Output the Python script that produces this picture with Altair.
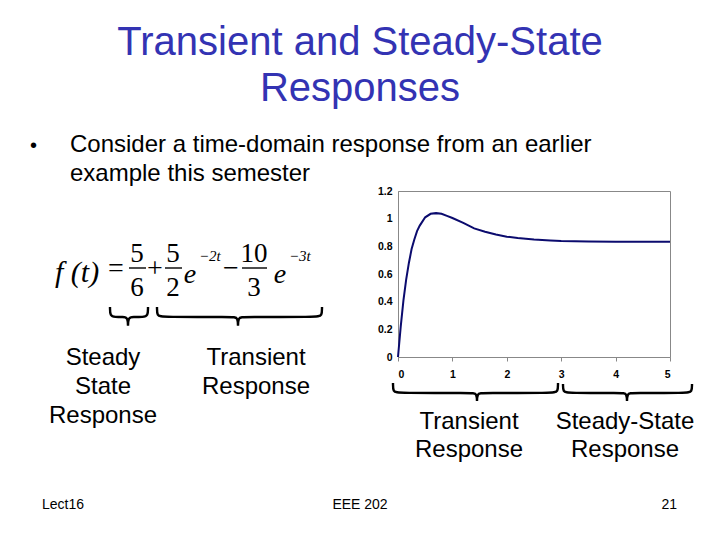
import altair as alt
import pandas as pd

# ---------------- data ----------------
t_vals = [0, 0.05, 0.1, 0.15, 0.2, 0.25, 0.3, 0.35, 0.4, 0.5, 0.6, 0.7, 0.8, 0.9,
          1.0, 1.2, 1.4, 1.6, 1.8, 2.0, 2.2, 2.5, 2.8, 3.0, 3.5, 4.0, 4.5, 5.0]
f_vals = [0, 0.22, 0.41, 0.56, 0.68, 0.78, 0.85, 0.91, 0.95, 1.01, 1.035, 1.04, 1.035, 1.02,
          1.005, 0.97, 0.93, 0.905, 0.885, 0.87, 0.86, 0.85, 0.843, 0.839, 0.835, 0.834, 0.833, 0.833]
x_ticks = [0, 1, 2, 3, 4, 5]
y_ticks = [0, 0.2, 0.4, 0.6, 0.8, 1.0, 1.2]

title_lines = ["Transient and Steady-State", "Responses"]
bullet_lines = ["Consider a time-domain response from an earlier", "example this semester"]
left_label_a = ["Steady", "State", "Response"]
left_label_b = ["Transient", "Response"]
low_label_a = ["Transient", "Response"]
low_label_b = ["Steady-State", "Response"]
footer = ["Lect16", "EEE 202", "21"]

# ---------------- layout (page pixels) ----------------
OX, OY = 398, 191          # plot-area origin on the page
W, H = 272, 166
SANS = "Liberation Sans"
SERIF = "Liberation Serif"


def rel(rows):
    df = pd.DataFrame(rows, columns=["text", "px", "py", "size", "color"])
    df["x"] = df["px"] - OX
    df["y"] = df["py"] - OY
    return df


def text_layer(rows, align, font, style="normal", weight="normal"):
    return alt.Chart(rel(rows)).mark_text(
        align=align, baseline="alphabetic", font=font, fontStyle=style, fontWeight=weight
    ).encode(
        x=alt.X("x:Q", scale=None, axis=None),
        y=alt.Y("y:Q", scale=None, axis=None),
        text="text:N",
        size=alt.Size("size:Q", scale=None, legend=None),
        color=alt.Color("color:N", scale=None, legend=None),
    )


TITLE_C = "#3333B3"
sans_center = []
sans_center += [(title_lines[0], 360, 55, 40, TITLE_C), (title_lines[1], 360, 101, 40, TITLE_C)]
sans_center += [(s, 103, 365 + 29 * i, 24, "black") for i, s in enumerate(left_label_a)]
sans_center += [(s, 256, 365 + 29 * i, 24, "black") for i, s in enumerate(left_label_b)]
sans_center += [(s, 469, 429 + 28 * i, 24, "black") for i, s in enumerate(low_label_a)]
sans_center += [(s, 625, 429 + 28 * i, 24, "black") for i, s in enumerate(low_label_b)]
sans_center += [(footer[1], 360, 509, 14, "black")]

sans_left = [("•", 30, 152, 20, "black")]
sans_left += [(s, 70, 152 + 29 * i, 24, "black") for i, s in enumerate(bullet_lines)]
sans_left += [(footer[0], 42, 509, 14, "black")]

sans_right = [(footer[2], 677, 509, 14, "black")]

# equation pieces
serif_italic_left = [("f (t)", 55, 282, 30, "black"),
                     ("−2t", 199, 261, 15, "black"),
                     ("−3t", 289, 261, 15, "black")]
serif_italic_center = [("e", 190, 283, 28, "black"), ("e", 280, 283, 28, "black")]
serif_center = [("=", 116, 277, 28, "black"),
                ("5", 137, 262, 27, "black"), ("6", 137, 296, 27, "black"),
                ("+", 155, 277, 28, "black"),
                ("5", 173, 262, 27, "black"), ("2", 173, 296, 27, "black"),
                ("−", 231, 277, 28, "black"),
                ("10", 254, 262, 27, "black"), ("3", 254, 296, 27, "black")]

bars = pd.DataFrame({"x": [129, 165, 242], "x2": [146, 182, 267], "y": [268, 268, 268]})
bars["x"] -= OX
bars["x2"] -= OX
bars["y"] -= OY

# braces: (x0, x1, xm, top, mid, bottom)
brace_specs = [(110, 148, 128, 307, 317, 330),
               (157, 322, 238, 307, 317, 330),
               (393, 558, 477, 383, 393, 405),
               (563, 692, 627, 384, 393, 405)]
brows = []
for b, (x0, x1, xm, top, mid, bot) in enumerate(brace_specs):
    r = 5
    pts = [(x0, top), (x0, mid - 1), (x0 + r, mid), (xm - r, mid), (xm, mid), (xm, bot),
           (xm, mid), (xm + r, mid), (x1 - r, mid), (x1, mid - 1), (x1, top)]
    for i, (px, py) in enumerate(pts):
        brows.append({"b": b, "i": i, "x": px - OX, "y": py - OY})
braces = pd.DataFrame(brows)

# ---------------- chart ----------------
curve = alt.Chart(pd.DataFrame({"t": t_vals, "f": f_vals})).mark_line(
    color="#0B0B6E", strokeWidth=2.0
).encode(
    x=alt.X("t:Q", scale=alt.Scale(domain=[0, 5], nice=False),
            axis=alt.Axis(values=x_ticks, title=None, grid=False, format="d",
                          labelFont=SANS, labelFontWeight="bold", labelFontSize=10.5,
                          labelColor="black", tickSize=4, tickColor="#888888",
                          domainColor="#888888", labelPadding=8)),
    y=alt.Y("f:Q", scale=alt.Scale(domain=[0, 1.2], nice=False),
            axis=alt.Axis(values=y_ticks, title=None, grid=False, format=".1~f",
                          labelFont=SANS, labelFontWeight="bold", labelFontSize=10.5,
                          labelColor="black", ticks=False,
                          domainColor="#888888", labelPadding=6)),
)

brace_layer = alt.Chart(braces).mark_line(
    color="black", strokeWidth=2.4, interpolate="basis"
).encode(
    x=alt.X("x:Q", scale=None, axis=None),
    y=alt.Y("y:Q", scale=None, axis=None),
    detail="b:N",
    order="i:Q",
)

bar_layer = alt.Chart(bars).mark_rule(color="black", strokeWidth=1.4).encode(
    x=alt.X("x:Q", scale=None, axis=None),
    x2="x2:Q",
    y=alt.Y("y:Q", scale=None, axis=None),
)

chart = alt.layer(
    curve,
    brace_layer,
    bar_layer,
    text_layer(sans_center, "center", SANS),
    text_layer(sans_left, "left", SANS),
    text_layer(sans_right, "right", SANS),
    text_layer(serif_italic_left, "left", SERIF, style="italic"),
    text_layer(serif_italic_center, "center", SERIF, style="italic"),
    text_layer(serif_center, "center", SERIF),
).resolve_scale(
    x="independent", y="independent"
).properties(
    width=W, height=H,
    autosize="none",
    padding={"left": OX - 8, "top": OY - 8, "right": 42, "bottom": 160},
    background="white",
).configure_view(
    stroke="#888888", strokeWidth=1
)

chart.save("out.html", embed_options={"renderer": "svg", "actions": False})
